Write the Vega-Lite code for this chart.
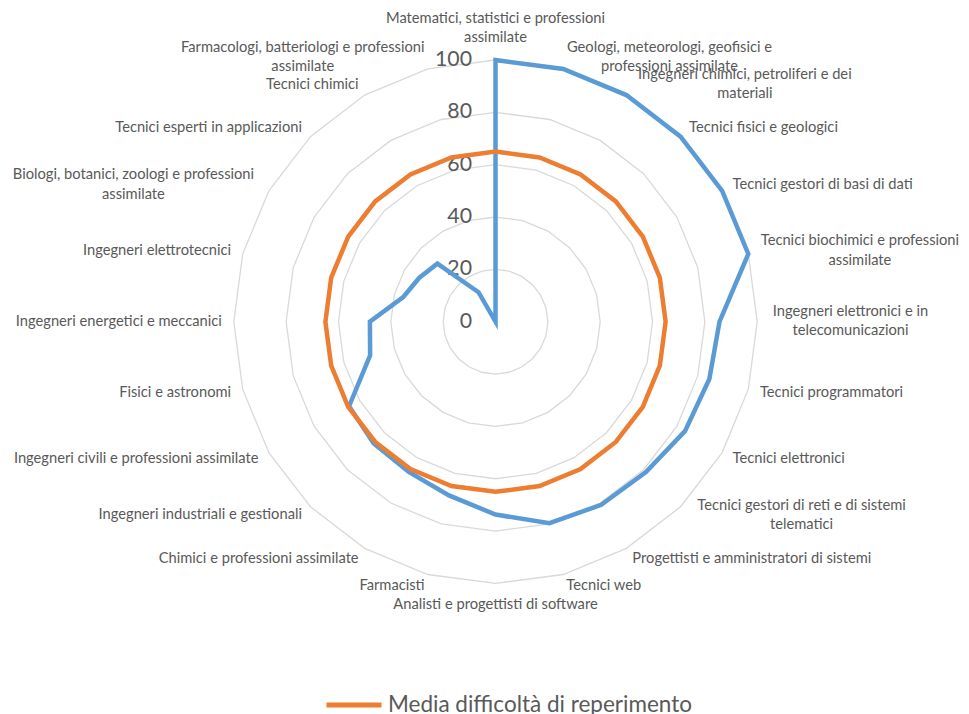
{
  "$schema": "https://vega.github.io/schema/vega-lite/v6.json",
  "autosize": {"type": "none"},
  "width": 969,
  "height": 714,
  "padding": 0,
  "background": "white",
  "config": {"view": {"stroke": null}, "font": "Lato"},
  "datasets": {
    "cats": [
      {"cat": "Matematici, statistici e professioni\nassimilate", "i": 0, "valore": 100, "media": 65},
      {"cat": "Geologi, meteorologi, geofisici e\nprofessioni assimilate", "i": 1, "valore": 100, "media": 65},
      {"cat": "Ingegneri chimici, petroliferi e dei\nmateriali", "i": 2, "valore": 100, "media": 65},
      {"cat": "Tecnici fisici e geologici", "i": 3, "valore": 100, "media": 65},
      {"cat": "Tecnici gestori di basi di dati", "i": 4, "valore": 100, "media": 65},
      {"cat": "Tecnici biochimici e professioni\nassimilate", "i": 5, "valore": 100, "media": 65},
      {"cat": "Ingegneri elettronici e in\ntelecomunicazioni", "i": 6, "valore": 85.6, "media": 65},
      {"cat": "Tecnici programmatori", "i": 7, "valore": 84.6, "media": 65},
      {"cat": "Tecnici elettronici", "i": 8, "valore": 83.6, "media": 65},
      {"cat": "Tecnici gestori di reti e di sistemi\ntelematici", "i": 9, "valore": 81.3, "media": 65},
      {"cat": "Progettisti e amministratori di sistemi", "i": 10, "valore": 80.8, "media": 65},
      {"cat": "Tecnici web", "i": 11, "valore": 79.7, "media": 65},
      {"cat": "Analisti e progettisti di software", "i": 12, "valore": 73.7, "media": 65},
      {"cat": "Farmacisti", "i": 13, "valore": 68.7, "media": 65},
      {"cat": "Chimici e professioni assimilate", "i": 14, "valore": 66.3, "media": 65},
      {"cat": "Ingegneri industriali e gestionali", "i": 15, "valore": 65.8, "media": 65},
      {"cat": "Ingegneri civili e professioni assimilate", "i": 16, "valore": 64.6, "media": 65},
      {"cat": "Fisici e astronomi", "i": 17, "valore": 49.6, "media": 65},
      {"cat": "Ingegneri energetici e meccanici", "i": 18, "valore": 48, "media": 65},
      {"cat": "Ingegneri elettrotecnici", "i": 19, "valore": 36.5, "media": 65},
      {"cat": "Biologi, botanici, zoologi e professioni\nassimilate", "i": 20, "valore": 33.6, "media": 65},
      {"cat": "Tecnici esperti in applicazioni", "i": 21, "valore": 31.4, "media": 65},
      {"cat": "Tecnici chimici", "i": 22, "valore": 13, "media": 65},
      {"cat": "Farmacologi, batteriologi e professioni\nassimilate", "i": 23, "valore": 0, "media": 65}
    ],
    "grid": [
      {"level": 20, "i": [0,1,2,3,4,5,6,7,8,9,10,11,12,13,14,15,16,17,18,19,20,21,22,23]},
      {"level": 40, "i": [0,1,2,3,4,5,6,7,8,9,10,11,12,13,14,15,16,17,18,19,20,21,22,23]},
      {"level": 60, "i": [0,1,2,3,4,5,6,7,8,9,10,11,12,13,14,15,16,17,18,19,20,21,22,23]},
      {"level": 80, "i": [0,1,2,3,4,5,6,7,8,9,10,11,12,13,14,15,16,17,18,19,20,21,22,23]},
      {"level": 100, "i": [0,1,2,3,4,5,6,7,8,9,10,11,12,13,14,15,16,17,18,19,20,21,22,23]}
    ],
    "levels": [{"level": 0}, {"level": 20}, {"level": 40}, {"level": 60}, {"level": 80}, {"level": 100}]
  },
  "layer": [
    {
      "data": {"name": "grid"},
      "transform": [
        {"flatten": ["i"]},
        {"calculate": "datum.i * PI / 12", "as": "t"},
        {"calculate": "datum.level * sin(datum.t)", "as": "px"},
        {"calculate": "datum.level * cos(datum.t)", "as": "py"}
      ],
      "mark": {"type": "line", "interpolate": "linear-closed", "stroke": "#D9D9D9", "strokeWidth": 1.3},
      "encoding": {
        "x": {"field": "px", "type": "quantitative", "scale": {"domain": [-189.34, 180.93], "nice": false, "zero": false}, "axis": null},
        "y": {"field": "py", "type": "quantitative", "scale": {"domain": [-149.9, 122.93], "nice": false, "zero": false}, "axis": null},
        "detail": {"field": "level", "type": "nominal"},
        "order": {"field": "i", "type": "quantitative"}
      }
    },
    {
      "data": {"name": "levels"},
      "mark": {"type": "text", "align": "right", "baseline": "middle", "dx": -23.5, "fontSize": 21.3, "color": "#595959", "font": "Lato"},
      "encoding": {
        "x": {"datum": 0, "type": "quantitative"},
        "y": {"field": "level", "type": "quantitative"},
        "text": {"field": "level", "type": "quantitative"}
      }
    },
    {
      "data": {"name": "cats"},
      "transform": [
        {"calculate": "datum.i * PI / 12", "as": "t"},
        {"calculate": "datum.valore * sin(datum.t)", "as": "px"},
        {"calculate": "datum.valore * cos(datum.t)", "as": "py"}
      ],
      "mark": {"type": "line", "interpolate": "linear-closed", "strokeWidth": 4.5},
      "encoding": {
        "x": {"field": "px", "type": "quantitative"},
        "y": {"field": "py", "type": "quantitative"},
        "order": {"field": "i", "type": "quantitative"},
        "color": {
          "datum": "Difficoltà di reperimento",
          "type": "nominal",
          "scale": {"domain": ["Difficoltà di reperimento", "Media difficoltà di reperimento"], "range": ["#5B9BD5", "#ED7D31"]},
          "legend": {
            "values": ["Media difficoltà di reperimento"],
            "title": null,
            "orient": "none",
            "legendX": 324,
            "legendY": 675,
            "symbolType": "stroke",
            "symbolSize": 3025,
            "symbolStrokeWidth": 5,
            "labelFont": "Lato",
            "labelFontSize": 22.5,
            "labelColor": "#595959",
            "labelOffset": 4,
            "labelLimit": 0
          }
        }
      }
    },
    {
      "data": {"name": "cats"},
      "transform": [
        {"calculate": "datum.i * PI / 12", "as": "t"},
        {"calculate": "datum.media * sin(datum.t)", "as": "px"},
        {"calculate": "datum.media * cos(datum.t)", "as": "py"}
      ],
      "mark": {"type": "line", "interpolate": "linear-closed", "strokeWidth": 4.5},
      "encoding": {
        "x": {"field": "px", "type": "quantitative"},
        "y": {"field": "py", "type": "quantitative"},
        "order": {"field": "i", "type": "quantitative"},
        "color": {"datum": "Media difficoltà di reperimento", "type": "nominal"}
      }
    },
    {
      "data": {"name": "cats"},
      "transform": [
        {"filter": "datum.i > 0 && datum.i < 12 && indexof(datum.cat, '\\n') < 0"},
        {"calculate": "datum.i * PI / 12", "as": "t"},
        {"calculate": "104.6 * sin(datum.t)", "as": "px"},
        {"calculate": "104.6 * cos(datum.t)", "as": "py"}
      ],
      "mark": {"type": "text", "align": "left", "baseline": "middle", "fontSize": 14.7, "color": "#595959", "font": "Lato"},
      "encoding": {
        "x": {"field": "px", "type": "quantitative"},
        "y": {"field": "py", "type": "quantitative"},
        "text": {"field": "cat", "type": "nominal"}
      }
    },
    {
      "data": {"name": "cats"},
      "transform": [
        {"filter": "datum.i > 12 && indexof(datum.cat, '\\n') < 0"},
        {"calculate": "datum.i * PI / 12", "as": "t"},
        {"calculate": "104.6 * sin(datum.t)", "as": "px"},
        {"calculate": "104.6 * cos(datum.t)", "as": "py"}
      ],
      "mark": {"type": "text", "align": "right", "baseline": "middle", "fontSize": 14.7, "color": "#595959", "font": "Lato"},
      "encoding": {
        "x": {"field": "px", "type": "quantitative"},
        "y": {"field": "py", "type": "quantitative"},
        "text": {"field": "cat", "type": "nominal"}
      }
    },
    {
      "data": {"name": "cats"},
      "transform": [
        {"filter": "datum.i == 0 || datum.i == 12 || indexof(datum.cat, '\\n') >= 0"},
        {"calculate": "datum.i * PI / 12", "as": "t"},
        {"calculate": "split(datum.cat, '\\n')", "as": "lines"},
        {"calculate": "max(length(datum.lines[0]), length(peek(datum.lines)))", "as": "maxlen"},
        {"calculate": "abs(sin(datum.t)) < 0.01 ? 0 : (sin(datum.t) > 0 ? 1 : -1) * datum.maxlen * 6.25 / 2 / 2.617", "as": "hw"},
        {"calculate": "abs(sin(datum.t)) < 0.01 ? (cos(datum.t) > 0 ? 1 : -1) * length(datum.lines) * 9.75 / 2.617 : 0", "as": "hh"},
        {"calculate": "(length(datum.lines) - 1) * 9.75 / 2.617", "as": "up"},
        {"calculate": "104.6 * sin(datum.t) + datum.hw", "as": "px"},
        {"calculate": "104.6 * cos(datum.t) + datum.hh + datum.up", "as": "py"}
      ],
      "mark": {"type": "text", "align": "center", "baseline": "middle", "fontSize": 14.7, "lineHeight": 19.5, "color": "#595959", "font": "Lato"},
      "encoding": {
        "x": {"field": "px", "type": "quantitative"},
        "y": {"field": "py", "type": "quantitative"},
        "text": {"field": "lines"}
      }
    }
  ]
}
